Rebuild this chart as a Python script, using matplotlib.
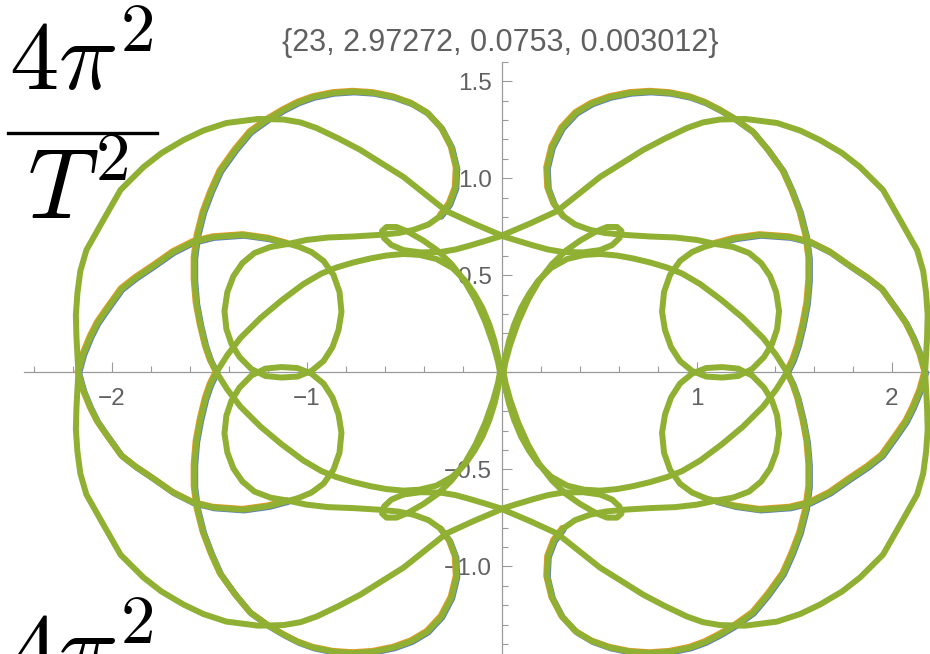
import matplotlib
matplotlib.use("Agg")
import matplotlib.pyplot as plt
import numpy as np
from matplotlib.lines import Line2D
from matplotlib.ticker import FixedLocator, FuncFormatter
from matplotlib.transforms import offset_copy

plt.rcParams["mathtext.fontset"] = "cm"

TITLE = "{23, 2.97272, 0.0753, 0.003012}"

# Orbit traced in the first quadrant; the curve is symmetric about both axes,
# so every strand is drawn four times (mirrored in x and in y).
outer_x = [0.000, 0.145, 0.284, 0.394, 0.504, 0.614, 0.725, 0.837, 0.950, 1.032, 1.119, 1.248, 1.412,
           1.530, 1.632, 1.745, 1.837, 1.955, 2.043, 2.130, 2.161, 2.176, 2.184, 2.181, 2.176, 2.171]
outer_y = [0.705, 0.767, 0.831, 0.919, 1.007, 1.076, 1.146, 1.205, 1.259, 1.288, 1.303, 1.306, 1.285,
           1.246, 1.197, 1.130, 1.058, 0.940, 0.785, 0.630, 0.522, 0.409, 0.295, 0.182, 0.089, 0.000]

loop_x = [1.463, 1.494, 1.519, 1.545, 1.566, 1.576, 1.576, 1.561, 1.530, 1.489, 1.443, 1.366, 1.289, 1.196,
          1.119, 1.043, 0.966, 0.863, 0.761, 0.658, 0.555, 0.463, 0.381, 0.309, 0.258, 0.232, 0.237, 0.268,
          0.314]
loop_y = [0.000, 0.063, 0.136, 0.244, 0.357, 0.476, 0.589, 0.703, 0.826, 0.935, 1.038, 1.146, 1.239, 1.306,
          1.352, 1.391, 1.419, 1.440, 1.447, 1.440, 1.419, 1.386, 1.337, 1.259, 1.161, 1.053, 0.950, 0.868,
          0.806]

shelf_x = [0.314, 0.376, 0.453, 0.530, 0.632, 0.761, 0.889, 1.002, 1.099]
shelf_y = [0.806, 0.762, 0.734, 0.718, 0.708, 0.700, 0.695, 0.682, 0.661]

ring_x = [1.099, 1.186, 1.268, 1.330, 1.376, 1.407, 1.422, 1.412, 1.386, 1.345, 1.284, 1.212, 1.130,
          1.048, 0.976, 0.914, 0.868, 0.837, 0.822, 0.832, 0.863, 0.914, 0.976, 1.043, 1.099]
ring_y = [0.661, 0.646, 0.615, 0.563, 0.496, 0.414, 0.316, 0.223, 0.146, 0.079, 0.017, -0.019, -0.027,
          -0.022, 0.007, 0.058, 0.130, 0.218, 0.311, 0.414, 0.502, 0.574, 0.620, 0.648, 0.664]

sweep_x = [1.099, 1.196, 1.325, 1.478, 1.581, 1.684, 1.786, 1.878, 1.950, 2.027, 2.073, 2.109, 2.145, 2.171]
sweep_y = [0.664, 0.690, 0.708, 0.697, 0.672, 0.620, 0.548, 0.486, 0.429, 0.321, 0.254, 0.182, 0.094, 0.000]

curl_x = [0.000, 0.078, 0.161, 0.237, 0.314, 0.417, 0.504, 0.566, 0.604, 0.614, 0.591, 0.540, 0.484,
          0.402, 0.330, 0.258, 0.191, 0.135, 0.084, 0.043, 0.019, 0.009]
curl_y = [0.703, 0.679, 0.654, 0.633, 0.620, 0.618, 0.630, 0.656, 0.692, 0.728, 0.749, 0.749, 0.726,
          0.679, 0.628, 0.558, 0.471, 0.373, 0.259, 0.141, 0.053, 0.000]

inner_x = [0.007, 0.017, 0.037, 0.063, 0.099, 0.140, 0.186, 0.253, 0.335, 0.422, 0.504, 0.591, 0.673,
           0.761, 0.848, 0.925, 1.017, 1.130, 1.237, 1.340, 1.407, 1.463]
inner_y = [0.000, 0.074, 0.161, 0.244, 0.331, 0.404, 0.471, 0.538, 0.584, 0.605, 0.610, 0.602, 0.587,
           0.566, 0.540, 0.509, 0.455, 0.370, 0.280, 0.177, 0.089, 0.000]

x_major = [-2, -1, 0, 1, 2]
y_major = [-1.5, -1.0, -0.5, 0.0, 0.5, 1.0, 1.5]

BLUE, ORANGE, GREEN = "#5e81b5", "#e19c24", "#8fb032"
AXIS_GRAY, LABEL_GRAY = "#9a9a9a", "#606060"

W, H, DPI = 930, 654, 100
fig = plt.figure(figsize=(W / DPI, H / DPI), dpi=DPI, facecolor="white")
ax = fig.add_axes([0, 0, 1, 1])
ax.set_xlim(-2.573, 2.196)
ax.set_ylim(-1.452, 1.919)

# (x, y, show the other two bodies slightly off the green track)
strands = [
    (outer_x, outer_y, False),
    (loop_x, loop_y, True),
    (shelf_x, shelf_y, False),
    (ring_x, ring_y, False),
    (sweep_x, sweep_y, True),
    (curl_x, curl_y, False),
    (inner_x, inner_y, False),
]

blue_tr = offset_copy(ax.transData, fig=fig, x=0.8, y=-0.8, units="dots")
orange_tr = offset_copy(ax.transData, fig=fig, x=-0.8, y=0.8, units="dots")
line_kw = dict(lw=4.3, solid_capstyle="round", solid_joinstyle="round")

for color, tr, z in ((BLUE, blue_tr, 3.0), (ORANGE, orange_tr, 3.1), (GREEN, ax.transData, 3.2)):
    for xs, ys, fringe in strands:
        if color != GREEN and not fringe:
            continue
        xs = np.asarray(xs)
        ys = np.asarray(ys)
        for sx in (1, -1):
            for sy in (1, -1):
                ax.plot(sx * xs, sy * ys, color=color, transform=tr, zorder=z, **line_kw)

# axes through the origin, Mathematica style
for side in ("top", "right"):
    ax.spines[side].set_visible(False)
ax.spines["left"].set_position(("data", 0))
ax.spines["bottom"].set_position(("data", 0))
ax.spines["left"].set_bounds(-1.452, 1.6)
ax.spines["bottom"].set_bounds(-2.45, 2.196)
for side in ("left", "bottom"):
    ax.spines[side].set_color(AXIS_GRAY)
    ax.spines[side].set_linewidth(0.9)
    ax.spines[side].set_zorder(1)

ax.xaxis.set_major_locator(FixedLocator(x_major))
ax.xaxis.set_minor_locator(FixedLocator(np.round(np.arange(-2.4, 2.21, 0.2), 2)))
ax.yaxis.set_major_locator(FixedLocator(y_major))
ax.yaxis.set_minor_locator(FixedLocator(np.round(np.arange(-1.4, 1.61, 0.1), 2)))


def fmt(dec):
    def f(v, _pos):
        if abs(v) < 1e-9:
            return ""
        return f"{v:.{dec}f}".replace("-", "\u2212")
    return FuncFormatter(f)


ax.xaxis.set_major_formatter(fmt(0))
ax.yaxis.set_major_formatter(fmt(1))
ax.tick_params(which="both", direction="in", color=AXIS_GRAY, width=0.8,
               labelcolor=LABEL_GRAY, labelsize=17.5, labelfontfamily="Liberation Sans")
ax.tick_params(which="major", length=7.5)
ax.tick_params(which="minor", length=4)
ax.tick_params(axis="x", pad=11.5)
ax.tick_params(axis="y", pad=7)
for lab in ax.get_xticklabels() + ax.get_yticklabels():
    lab.set_zorder(1)

# -1.5 label sits just below the visible area
ax.annotate("\u22121.5", xy=(0, -1.5), xytext=(-7, 0), textcoords="offset points",
            ha="right", va="center_baseline", color=LABEL_GRAY, fontsize=17.5,
            family="Liberation Sans", annotation_clip=False)

fig.text(500 / W, 1 - 42.5 / H, TITLE, ha="center", va="center", fontsize=22,
         color=LABEL_GRAY, family="Liberation Sans")

# stacked 4pi^2/T^2 labels on the left
frac_kw = dict(fontsize=71, color="black", ha="left", va="baseline", zorder=10)
fig.text(9 / W, 1 - 91 / H, r"$4\pi^2$", **frac_kw)
fig.add_artist(Line2D([8.3 / W, 156.7 / W], [1 - 133.3 / H] * 2, lw=2.4, color="black", zorder=10))
fig.text(27 / W, 1 - 220 / H, r"$T^2$", **frac_kw)
fig.text(9 / W, 1 - 683 / H, r"$4\pi^2$", **frac_kw)

fig.savefig("out.png", dpi=DPI, facecolor="white")
